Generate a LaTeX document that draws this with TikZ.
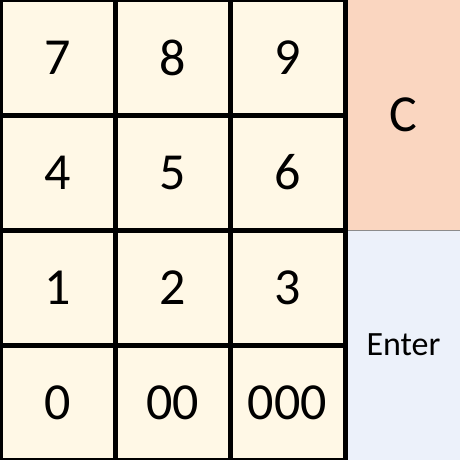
\documentclass[tikz,border=0pt]{standalone}
\usepackage{fontspec}
\setmainfont{Carlito}
\definecolor{cream}{RGB}{255,248,230}
\definecolor{salmon}{RGB}{250,214,192}
\definecolor{paleblue}{RGB}{236,241,250}
\tikzset{
  keybox/.style={draw=black, line width=5pt, fill=cream, minimum width=115pt, minimum height=115pt, inner sep=0pt, outer sep=0pt, font=\fontsize{52}{60}\selectfont},
  sidebox/.style={draw=black!45, line width=1pt, minimum width=113pt, minimum height=230pt, inner sep=0pt, outer sep=0pt}
}
\begin{document}
\begin{tikzpicture}[x=1pt,y=-1pt]
\useasboundingbox (0,0) rectangle (460,460);
\node[sidebox, fill=salmon, font=\fontsize{52}{60}\selectfont] (clr) at (403.5,115) {C};
\node[sidebox, fill=paleblue, font=\fontsize{34}{40}\selectfont] (ent) at (403.5,345) {Enter};
\node[keybox] (k7) at (57.5,57.5) {7};
\node[keybox] (k8) at (172.5,57.5) {8};
\node[keybox] (k9) at (287.5,57.5) {9};
\node[keybox] (k4) at (57.5,172.5) {4};
\node[keybox] (k5) at (172.5,172.5) {5};
\node[keybox] (k6) at (287.5,172.5) {6};
\node[keybox] (k1) at (57.5,287.5) {1};
\node[keybox] (k2) at (172.5,287.5) {2};
\node[keybox] (k3) at (287.5,287.5) {3};
\node[keybox] (k0) at (57.5,402.5) {0};
\node[keybox] (k00) at (172.5,402.5) {00};
\node[keybox] (k000) at (287.5,402.5) {000};
\end{tikzpicture}
\end{document}
